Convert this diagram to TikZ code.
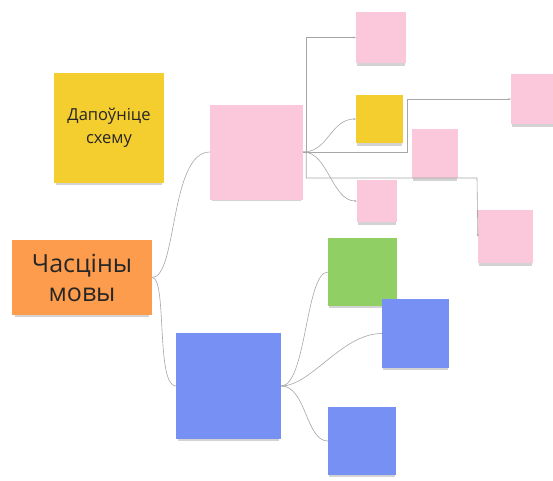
\documentclass[tikz,border=0pt]{standalone}
\usepackage{fontspec}
\setmainfont{Open Sans}
\usetikzlibrary{shadows,arrows.meta}
\definecolor{noteyellow}{HTML}{F4CD2E}
\definecolor{noteorange}{HTML}{FD9C4C}
\definecolor{notepink}{HTML}{FAC7DB}
\definecolor{noteblue}{HTML}{7690F4}
\definecolor{notegreen}{HTML}{8FCF63}
\begin{document}
\begin{tikzpicture}[x=1pt,y=-1pt,>={Stealth[length=2.5pt,width=2pt]},
    note/.style={rectangle,inner sep=0pt,text=black!85,align=center,
      drop shadow={shadow xshift=0pt,shadow yshift=-4pt,shadow scale=.96,opacity=.35}},
    link/.style={draw=black!35,line width=.6pt}]
  \useasboundingbox (0,0) rectangle (553,480);
  % left notes
  \node[note,fill=noteyellow,minimum width=110pt,minimum height=110pt,font=\fontsize{16.5}{23}\selectfont] (dapo) at (109,128) {Дапоўніце\\схему};
  \node[note,fill=noteorange,minimum width=140pt,minimum height=75pt,font=\fontsize{25}{29}\selectfont] (chasc) at (82,277.5) {Часціны\\мовы};
  % pink branch
  \node[note,fill=notepink,minimum width=93pt,minimum height=95pt] (bpink) at (256.5,152) {};
  \node[note,fill=notepink,minimum width=50pt,minimum height=51pt] (tpink) at (381,37.5) {};
  \node[note,fill=noteyellow,minimum width=47pt,minimum height=48pt] (syel) at (379.5,119) {};
  \node[note,fill=notepink,minimum width=46pt,minimum height=49pt] (mpink) at (435,153.5) {};
  \node[note,fill=notepink,minimum width=40pt,minimum height=42pt] (spink) at (377,201) {};
  \node[note,fill=notepink,minimum width=50pt,minimum height=50pt] (rtpink) at (536,99) {};
  \node[note,fill=notepink,minimum width=55pt,minimum height=53pt] (rlpink) at (505.5,236.5) {};
  % blue branch
  \node[note,fill=noteblue,minimum width=105pt,minimum height=106pt] (bblue) at (228.5,386) {};
  \node[note,fill=notegreen,minimum width=69pt,minimum height=68pt] (green) at (362.5,272) {};
  \node[note,fill=noteblue,minimum width=67pt,minimum height=69pt] (rblue) at (415.5,333.5) {};
  \node[note,fill=noteblue,minimum width=68pt,minimum height=68pt] (dblue) at (362,441) {};
  % bends of the elbow links
  \coordinate (k1) at (477,178);
  \coordinate (k2) at (407,99);
  % links
  \draw[link] (chasc.east) .. controls +(25,0) and +(-40,0) .. (bpink.west);
  \draw[link] (chasc.east) .. controls +(15,0) and +(-20,0) .. (bblue.west);
  \draw[link,->] (bpink.east) -- ++(3,0) |- (tpink.west);
  \draw[link,->] (bpink.east) .. controls +(25,0) and +(-25,0) .. (syel.west);
  \draw[link,->] (bpink.east) .. controls +(25,0) and +(-25,0) .. (spink.west);
  \draw[link,->] (bpink.east) -| (k2) -- (rtpink.west);
  \draw[link,->] (bpink.east) -- ++(3,0) |- (k1) -- (rlpink.west);
  \draw[link] (bblue.east) .. controls +(25,0) and +(-22,0) .. (green.west);
  \draw[link] (bblue.east) .. controls +(30,0) and +(-40,0) .. (rblue.west);
  \draw[link] (bblue.east) .. controls +(25,0) and +(-22,0) .. (dblue.west);
\end{tikzpicture}
\end{document}
